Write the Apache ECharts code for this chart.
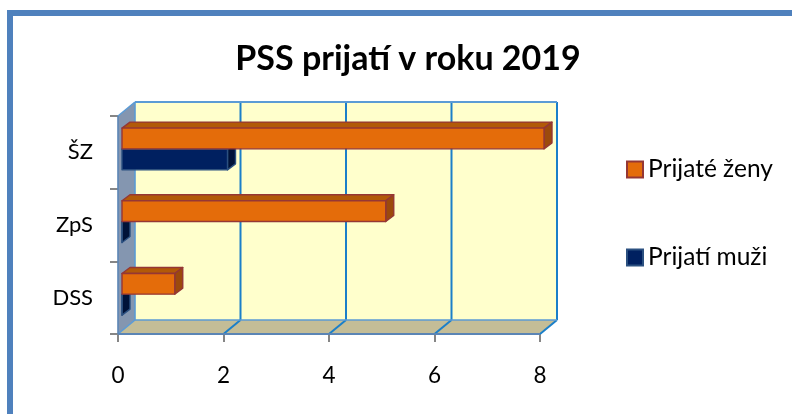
<!DOCTYPE html>
<html><head><meta charset="utf-8">
<style>html,body{margin:0;padding:0;background:#fff}#c{width:792px;height:414px}</style>
<script src="https://cdn.jsdelivr.net/npm/echarts@6/dist/echarts.min.js"></script>
</head><body><div id="c"></div>
<script>
const categories = ['DSS', 'ZpS', 'ŠZ'];
const zeny = [1, 5, 8];
const muzi = [0, 0, 2];
const xTicks = [0, 2, 4, 6, 8];
const title = 'PSS prijatí v roku 2019';

const DX = 17, DY = 14, BDX = 8, BDY = 6, FX = 4, FY = 3.5;
const FONT = 'Lato';

function wall(params, api) {
  if (params.dataIndex !== 0) return;
  const band = api.size([0, 1])[1];
  const x0 = api.coord([0, 0])[0], x8 = api.coord([8, 0])[0];
  const yb = api.coord([0, 0])[1] + band / 2, yt = api.coord([0, 2])[1] - band / 2;
  const poly = (pts, fill, stroke, lw) => ({type: 'polygon', shape: {points: pts},
    style: {fill: fill, stroke: stroke || null, lineWidth: lw || 0}});
  const line = (a, b, c, w) => ({type: 'line', shape: {x1: a[0], y1: a[1], x2: b[0], y2: b[1]},
    style: {stroke: c, lineWidth: w}});
  const kids = [
    poly([[x0 + DX, yt - DY], [x8 + DX, yt - DY], [x8 + DX, yb - DY], [x0 + DX, yb - DY]], '#ffffcc'),
    poly([[x0, yb], [x0 + DX, yb - DY], [x8 + DX, yb - DY], [x8, yb]], '#c4bd97'),
    poly([[x0, yt], [x0 + DX, yt - DY], [x0 + DX, yb - DY], [x0, yb]], '#8496b0')
  ];
  const blue = '#1b7fc9';
  xTicks.forEach(t => {
    const x = api.coord([t, 0])[0];
    if (t > 0) kids.push(line([x + DX, yt - DY], [x + DX, yb - DY], blue, 2));
    if (t > 0) kids.push(line([x, yb], [x + DX, yb - DY], blue, 2));
  });
  kids.push(line([x0 + DX, yt - DY], [x8 + DX, yt - DY], '#5b9bd5', 2));
  kids.push(line([x0 + DX, yb - DY], [x8 + DX, yb - DY], '#5b9bd5', 1.6));
  kids.push(line([x0 + DX, yt - DY], [x0 + DX, yb - DY], '#5b9bd5', 1.6));
  kids.push(line([x0, yt], [x0 + DX, yt - DY], '#5b9bd5', 1.6));
  kids.push(line([x0, yb], [x0 + DX, yb - DY], '#5b9bd5', 1.6));
  kids.push(line([x0, yt], [x0, yb], '#5b85b5', 1.6));
  kids.push(line([x0, yb], [x8, yb], '#5b85b5', 2));
  return {type: 'group', children: kids};
}

function bar3d(slot, colors) {
  return function (params, api) {
    const v = api.value(0), c = api.value(1);
    const band = api.size([0, 1])[1];
    const h = band * 0.285;
    const p = api.coord([v, c]), o = api.coord([0, c]);
    const x0 = o[0] + FX, x1 = p[0] + FX;
    const top = p[1] - FY - h + slot * h + 0.3 * slot;
    const bot = top + h;
    const poly = (pts, fill) => ({type: 'polygon', shape: {points: pts},
      style: {fill: fill, stroke: colors.border, lineWidth: 1.4, lineJoin: 'round'}});
    return {type: 'group', children: [
      poly([[x0, top], [x0 + BDX, top - BDY], [x1 + BDX, top - BDY], [x1, top]], colors.top),
      poly([[x1, top], [x1 + BDX, top - BDY], [x1 + BDX, bot - BDY], [x1, bot]], colors.side),
      poly([[x0, top], [x1, top], [x1, bot], [x0, bot]], colors.face)
    ]};
  };
}

const zenyColors = {face: '#e46c0a', top: '#b25a08', side: '#9c4a0c', border: '#953735'};
const muziColors = {face: '#002060', top: '#001a4c', side: '#001238', border: '#2b5080'};

const chart = echarts.init(document.getElementById('c'), null, {renderer: 'canvas'});
chart.setOption({
  animation: false,
  backgroundColor: '#fff',
  title: {text: title, left: 403, top: 37, textAlign: 'center',
    textStyle: {fontFamily: FONT, fontSize: 34, fontWeight: 'bold', color: '#000'}},
  legend: {
    orient: 'vertical', left: 621, top: 152, itemWidth: 16, itemHeight: 16, itemGap: 63, icon: 'rect',
    data: ['Prijaté ženy', 'Prijatí muži'],
    textStyle: {fontFamily: FONT, fontSize: 24.5, color: '#000', padding: [0, 0, 0, 0]}
  },
  grid: {left: 118, right: 252, top: 116, bottom: 80},
  xAxis: {type: 'value', min: 0, max: 8, interval: 2, splitLine: {show: false},
    axisLine: {show: false},
    axisTick: {show: true, length: 8, lineStyle: {color: '#868686', width: 2}},
    axisLabel: {fontFamily: FONT, fontSize: 22.5, color: '#000', margin: 30, showMinLabel: true, showMaxLabel: true}},
  yAxis: {type: 'category', data: categories, splitLine: {show: false},
    axisLine: {show: false},
    axisTick: {show: true, length: 8, lineStyle: {color: '#868686', width: 2}},
    axisLabel: {fontFamily: FONT, fontSize: 22, color: '#000', margin: 25, padding: [8, 0, 0, 0]}},
  graphic: [{type: 'polyline', silent: true, z: 0,
    shape: {points: [[10, 414], [10, 13], [792, 13]]},
    style: {fill: null, stroke: '#4f81bd', lineWidth: 6}}],
  series: [
    {type: 'custom', name: 'wall', renderItem: wall, data: [[0, 0]], z: 1,
      encode: {x: 0, y: 1}, silent: true},
    {type: 'custom', name: 'Prijatí muži', renderItem: bar3d(1, muziColors), z: 2,
      itemStyle: {color: muziColors.face, borderColor: muziColors.border, borderWidth: 2},
      encode: {x: 0, y: 1}, data: muzi.map((v, i) => [v, i])},
    {type: 'custom', name: 'Prijaté ženy', renderItem: bar3d(0, zenyColors), z: 3,
      itemStyle: {color: zenyColors.face, borderColor: zenyColors.border, borderWidth: 2},
      encode: {x: 0, y: 1}, data: zeny.map((v, i) => [v, i])}
  ]
});
</script></body></html>
